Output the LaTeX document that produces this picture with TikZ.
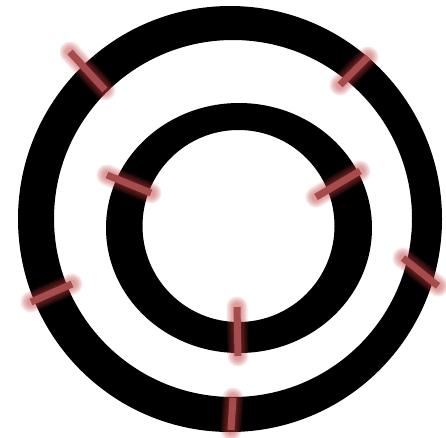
\documentclass[tikz,border=0pt]{standalone}
\definecolor{markred}{RGB}{166,76,76}
\definecolor{glowred}{RGB}{190,60,60}
\tikzset{
  ring/.style={fill=black,even odd rule,draw=none},
  glowlayer/.style={draw=glowred,line cap=round,opacity=0.13},
  markcore/.style={draw=markred,line width=7pt,line cap=butt},
}
\newcommand{\glowmark}[2]{%
  \foreach \w in {9,12,15,18,21}{\draw[glowlayer,line width=\w pt] #1 -- #2;}
  \draw[markcore] #1 -- #2;
}
\begin{document}
\begin{tikzpicture}[x=1pt,y=-1pt]
\useasboundingbox (0,0) rectangle (446,437);
% outer ring
\path[ring] (230,219) ellipse [x radius=212,y radius=213] (233,218.5) ellipse [x radius=179,y radius=178.5];
% inner ring
\path[ring] (239,228) ellipse [x radius=133,y radius=125] (238.5,226) circle [radius=96];
% marks
\coordinate (a1) at (70,52);   \coordinate (a2) at (105,90);
\coordinate (b1) at (368,57);  \coordinate (b2) at (340,85);
\coordinate (c1) at (107,175); \coordinate (c2) at (151,193);
\coordinate (d1) at (360,171); \coordinate (d2) at (316,197);
\coordinate (e1) at (72,284);  \coordinate (e2) at (31,302);
\coordinate (f1) at (403,258); \coordinate (f2) at (438,286);
\coordinate (g1) at (237,307); \coordinate (g2) at (238,356);
\coordinate (h1) at (233,398); \coordinate (h2) at (231,430);
\glowmark{(a1)}{(a2)}
\glowmark{(b1)}{(b2)}
\glowmark{(c1)}{(c2)}
\glowmark{(d1)}{(d2)}
\glowmark{(e1)}{(e2)}
\glowmark{(f1)}{(f2)}
\glowmark{(g1)}{(g2)}
\glowmark{(h1)}{(h2)}
\end{tikzpicture}
\end{document}
